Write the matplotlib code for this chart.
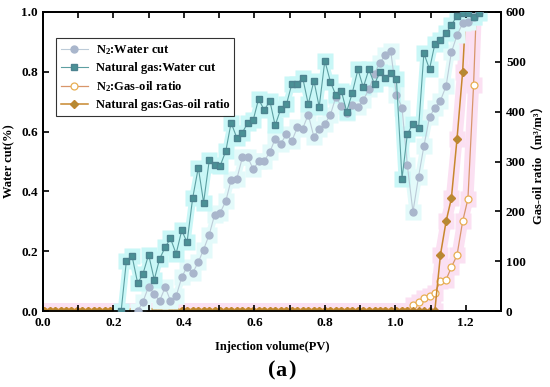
import matplotlib
matplotlib.use("Agg")
import matplotlib.pyplot as plt
from matplotlib.ticker import MultipleLocator

plt.rcParams['font.family'] = ['Liberation Serif', 'Noto Sans CJK SC']
plt.rcParams['font.weight'] = 'bold'
plt.rcParams['mathtext.fontset'] = 'custom'
plt.rcParams['mathtext.rm'] = 'Liberation Serif:bold'
plt.rcParams['mathtext.it'] = 'Liberation Serif:bold'
plt.rcParams['mathtext.bf'] = 'Liberation Serif:bold'

# Injection volume grid (PV)
pv = [0.003, 0.019, 0.034, 0.050, 0.066, 0.081, 0.097, 0.112, 0.128, 0.144,
      0.159, 0.175, 0.191, 0.206, 0.222, 0.237, 0.253, 0.269, 0.284, 0.300,
      0.316, 0.331, 0.347, 0.362, 0.378, 0.394, 0.409, 0.425, 0.441, 0.456,
      0.472, 0.487, 0.503, 0.519, 0.534, 0.550, 0.566, 0.581, 0.597, 0.612,
      0.628, 0.644, 0.659, 0.675, 0.691, 0.706, 0.722, 0.737, 0.753, 0.769,
      0.784, 0.800, 0.816, 0.831, 0.847, 0.862, 0.878, 0.894, 0.909, 0.925,
      0.941, 0.956, 0.972, 0.987, 1.003, 1.019, 1.034, 1.050, 1.066, 1.081,
      1.097, 1.112, 1.128, 1.144, 1.159, 1.175, 1.191, 1.206, 1.222, 1.237]

# Natural gas water cut, starting at pv index 14
ng_wc = [0.0, 0.169, 0.184, 0.093, 0.125, 0.189, 0.105, 0.174, 0.214, 0.243,
         0.192, 0.270, 0.230, 0.378, 0.480, 0.363, 0.504, 0.487, 0.486, 0.535,
         0.630, 0.580, 0.597, 0.629, 0.640, 0.709, 0.672, 0.703, 0.621, 0.676,
         0.691, 0.758, 0.759, 0.781, 0.692, 0.770, 0.683, 0.837, 0.766, 0.723,
         0.735, 0.667, 0.730, 0.808, 0.748, 0.808, 0.758, 0.800, 0.778, 0.795,
         0.776, 0.443, 0.591, 0.627, 0.612, 0.862, 0.809, 0.892, 0.906, 0.929,
         0.956, 0.987, 0.998, 0.996, 0.984, 0.998]
ng_wc_start = 14

# N2 water cut, starting at pv index 17
n2_wc = [0.0, 0.032, 0.082, 0.058, 0.034, 0.080, 0.035, 0.050, 0.113, 0.149,
         0.128, 0.164, 0.206, 0.256, 0.321, 0.329, 0.368, 0.438, 0.441, 0.514,
         0.515, 0.474, 0.501, 0.502, 0.532, 0.576, 0.560, 0.591, 0.568, 0.614,
         0.610, 0.657, 0.582, 0.610, 0.626, 0.657, 0.715, 0.686, 0.661, 0.690,
         0.684, 0.706, 0.741, 0.794, 0.831, 0.855, 0.869, 0.724, 0.680, 0.488,
         0.332, 0.450, 0.551, 0.649, 0.679, 0.704, 0.752, 0.865, 0.922, 0.962,
         0.967, 0.982, 1.0]
n2_wc_start = 17

# Gas-oil ratio (m3/m3), non-zero tails; zero before
ng_gor = [0.0] * 72 + [113, 180, 226, 345, 480, 680]
n2_gor = [0.0] * 67 + [13, 19, 26, 30, 37, 60, 63, 88, 112, 180, 225, 453, 740]

fig = plt.figure(figsize=(5.5, 3.87), dpi=100)
ax = fig.add_axes([0.078, 0.196, 0.833, 0.773])
ax2 = ax.twinx()

x_ng = pv[ng_wc_start:ng_wc_start + len(ng_wc)]
x_n2 = pv[n2_wc_start:n2_wc_start + len(n2_wc)]
x_ngg = pv[:len(ng_gor)]
x_n2g = pv[:len(n2_gor)]

# halos
ax.plot(x_n2, n2_wc, color='#e3fafa', lw=5, marker='s', ms=11, mec='none', zorder=1)
ax.plot(x_ng, ng_wc, color='#c9f7f7', lw=5, marker='s', ms=11, mec='none', zorder=1)
ax2.plot(x_ngg, ng_gor, color='#fbe0f2', lw=8, marker='s', ms=11, mec='none', zorder=1)
ax2.plot(x_n2g, n2_gor, color='#fbe0f2', lw=8, marker='s', ms=11, mec='none', zorder=1)

l1, = ax.plot(x_n2, n2_wc, color='#bccbd8', lw=0.8, marker='o', ms=5,
              mfc='#a9b6cc', mec='#a9b6cc', zorder=3, label=r'N$_2$:Water cut')
l2, = ax.plot(x_ng, ng_wc, color='#5d9fa2', lw=0.8, marker='s', ms=4.5,
              mfc='#4a9196', mec='#4d8390', zorder=4, label='Natural gas:Water cut')
l3, = ax2.plot(x_n2g, n2_gor, color='#d8966a', lw=0.9, marker='o', ms=5,
               mfc='white', mec='#e8ae52', mew=0.9, zorder=3, label=r'N$_2$:Gas-oil ratio')
l4, = ax2.plot(x_ngg, ng_gor, color='#c8872e', lw=1.1, marker='D', ms=4.5,
               mfc='#b48a34', mec='#c08530', zorder=4, label='Natural gas:Gas-oil ratio')
# thicker brown baseline where the gas-oil ratio sits at zero
ax2.plot(x_ngg[:72], ng_gor[:72], color='#a8742a', lw=2.5, zorder=2, solid_capstyle='butt')

ax.set_xlim(0, 1.3)
ax.set_ylim(0, 1.0)
ax2.set_ylim(0, 600)
ax.set_zorder(ax2.get_zorder() + 1)
ax.patch.set_visible(False)

ax.xaxis.set_major_locator(MultipleLocator(0.2))
ax.xaxis.set_minor_locator(MultipleLocator(0.1))
ax.yaxis.set_major_locator(MultipleLocator(0.2))
ax2.yaxis.set_major_locator(MultipleLocator(100))

ax.tick_params(axis='x', which='both', direction='in', top=True, length=4, width=1.2, labelsize=9.5, pad=4)
ax.tick_params(axis='y', which='both', direction='in', length=4, width=1.2, labelsize=9.5)
ax2.tick_params(axis='y', direction='in', length=4, width=1.2, labelsize=9.5)

ax.set_xticklabels([f'{v:.1f}' for v in ax.get_xticks()])
for lab in ax.get_xticklabels() + ax.get_yticklabels() + ax2.get_yticklabels():
    lab.set_fontweight('bold')

for a in (ax, ax2):
    for s in a.spines.values():
        s.set_linewidth(1.3)

ax.set_xlabel('Injection volume(PV)', fontsize=9, fontweight='bold', labelpad=9)
ax.set_ylabel('Water cut(%)', fontsize=9, fontweight='bold', labelpad=4)
ax2.set_ylabel('Gas-oil ratio（m³/m³）', fontsize=9, fontweight='bold', labelpad=6)

leg = ax.legend(handles=[l1, l2, l3, l4], loc='upper left', bbox_to_anchor=(0.028, 0.912),
                frameon=True, fancybox=False, edgecolor='black',
                borderaxespad=0, handlelength=2.2, handletextpad=0.6,
                labelspacing=0.4, borderpad=0.4,
                prop={'weight': 'bold', 'size': 9})
leg.get_frame().set_linewidth(0.8)

fig.text(0.5, 0.042, '(', fontsize=16, ha='right', va='center')
fig.text(0.5, 0.042, 'a', fontsize=16, fontweight='bold', ha='left', va='center')
fig.text(0.5235, 0.042, ')', fontsize=16, ha='left', va='center')

fig.savefig('out.png', dpi=100)
